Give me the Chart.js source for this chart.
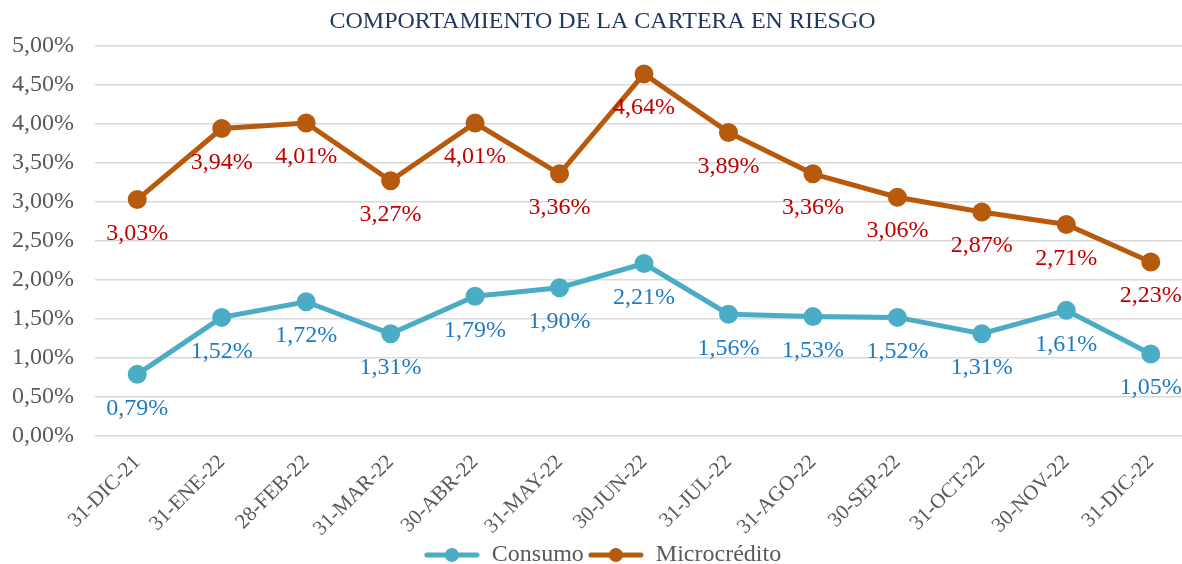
<!DOCTYPE html>
<html>
<head>
<meta charset="utf-8">
<script src="https://cdn.jsdelivr.net/npm/chart.js@4"></script>
<style>
    html, body { margin: 0; padding: 0; background: #fff; overflow: hidden; }
    #wrap { width: 1205px; height: 564px; }
</style>
</head>
<body>
<div id="wrap"><canvas id="riesgo"></canvas></div>
<script>
const categories = ['31-DIC-21', '31-ENE-22', '28-FEB-22', '31-MAR-22', '30-ABR-22', '31-MAY-22',
    '30-JUN-22', '31-JUL-22', '31-AGO-22', '30-SEP-22', '31-OCT-22', '30-NOV-22', '31-DIC-22'];
const consumo = [0.79, 1.52, 1.72, 1.31, 1.79, 1.90, 2.21, 1.56, 1.53, 1.52, 1.31, 1.61, 1.05];
const microcredito = [3.03, 3.94, 4.01, 3.27, 4.01, 3.36, 4.64, 3.89, 3.36, 3.06, 2.87, 2.71, 2.23];
const yTicks = [0, 0.5, 1, 1.5, 2, 2.5, 3, 3.5, 4, 4.5, 5];

const FONT = "'Liberation Serif', 'Times New Roman', serif";
const fmt = v => v.toFixed(2).replace('.', ',') + '%';

function legendIcon(color) {
    const c = document.createElement('canvas');
    c.width = 56; c.height = 16;
    const g = c.getContext('2d');
    g.strokeStyle = color;
    g.lineWidth = 5;
    g.lineCap = 'round';
    g.beginPath(); g.moveTo(3, 8); g.lineTo(53, 8); g.stroke();
    g.fillStyle = color;
    g.beginPath(); g.arc(28, 8, 7, 0, Math.PI * 2); g.fill();
    return c;
}

// draws the value under each point
const valueLabels = {
    id: 'valueLabels',
    afterDatasetsDraw(chart) {
        const ctx = chart.ctx;
        ctx.save();
        ctx.font = '24px ' + FONT;
        ctx.textAlign = 'center';
        ctx.textBaseline = 'middle';
        chart.data.datasets.forEach((ds, i) => {
            const meta = chart.getDatasetMeta(i);
            ctx.fillStyle = ds.labelColor;
            meta.data.forEach((pt, j) => {
                ctx.fillText(fmt(ds.data[j]), pt.x, pt.y + 34);
            });
        });
        ctx.restore();
    }
};

new Chart(document.getElementById('riesgo'), {
    type: 'line',
    data: {
        labels: categories,
        datasets: [
            {
                label: 'Consumo',
                data: consumo,
                borderColor: '#4BACC6',
                backgroundColor: '#4BACC6',
                labelColor: '#1F7CC4',
                borderWidth: 5,
                pointRadius: 7,
                pointHoverRadius: 7,
                legendIcon: legendIcon('#4BACC6')
            },
            {
                label: 'Microcrédito',
                data: microcredito,
                borderColor: '#B85A0D',
                backgroundColor: '#B85A0D',
                labelColor: '#C00000',
                borderWidth: 5,
                pointRadius: 7,
                pointHoverRadius: 7,
                legendIcon: legendIcon('#B85A0D')
            }
        ]
    },
    options: {
        responsive: true,
        maintainAspectRatio: false,
        animation: false,
        layout: { padding: { top: 0, left: 0, right: 0, bottom: -13 } },
        plugins: {
            title: {
                display: true,
                text: 'COMPORTAMIENTO DE LA CARTERA EN RIESGO',
                color: '#1F3864',
                font: { family: FONT, size: 24, weight: 'normal' },
                padding: { top: 7, bottom: 10 }
            },
            legend: {
                position: 'bottom',
                labels: {
                    color: '#595959',
                    font: { family: FONT, size: 24 },
                    usePointStyle: true,
                    pointStyleWidth: 56,
                    padding: 4,
                    generateLabels(chart) {
                        return chart.data.datasets.map((ds, i) => ({
                            text: ds.label,
                            fontColor: '#595959',
                            pointStyle: ds.legendIcon,
                            datasetIndex: i,
                            hidden: false,
                            lineWidth: 0
                        }));
                    }
                }
            },
            tooltip: { enabled: false }
        },
        scales: {
            x: {
                offset: true,
                afterFit(scale) { scale.height = 103; },
                grid: { display: false, drawTicks: false },
                border: { display: false },
                ticks: {
                    color: '#595959',
                    font: { family: FONT, size: 21 },
                    minRotation: 45,
                    maxRotation: 45,
                    padding: 14
                }
            },
            y: {
                min: 0,
                max: 5,
                afterBuildTicks(scale) {
                    scale.ticks = yTicks.map(v => ({ value: v }));
                },
                afterFit(scale) { scale.width = 95; },
                grid: { color: '#D9D9D9', lineWidth: 1.5, drawTicks: false },
                border: { display: false },
                ticks: {
                    color: '#595959',
                    font: { family: FONT, size: 24 },
                    padding: 21,
                    callback: v => fmt(v)
                }
            }
        }
    },
    plugins: [valueLabels]
});
</script>
</body>
</html>
